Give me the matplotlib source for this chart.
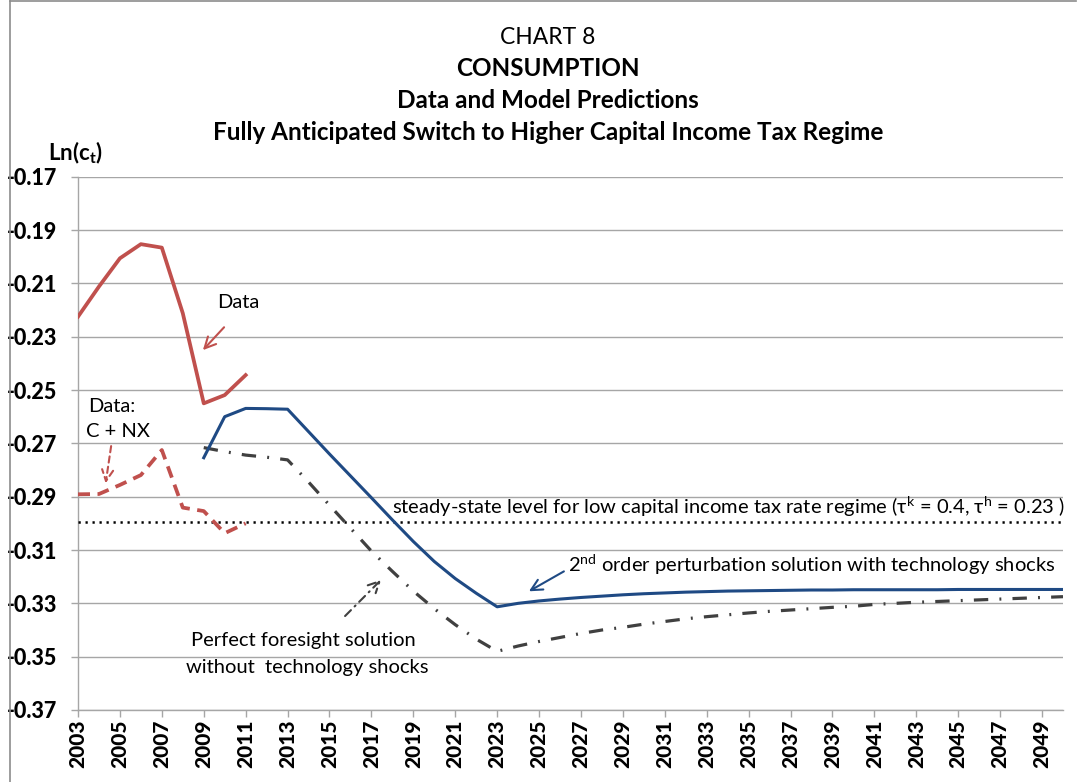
import matplotlib
matplotlib.use("Agg")
import matplotlib.pyplot as plt
from matplotlib.lines import Line2D

plt.rcParams['font.family'] = ['Lato', 'DejaVu Sans']
plt.rcParams['mathtext.fontset'] = 'custom'
plt.rcParams['mathtext.rm'] = 'Lato'
plt.rcParams['mathtext.it'] = 'Lato:italic'
plt.rcParams['mathtext.bf'] = 'Lato:bold'

# ---------------- data ----------------
data_years = list(range(2003, 2012))
data_c = [-0.2225, -0.2112, -0.2006, -0.1953, -0.1966, -0.2212, -0.2550, -0.2519, -0.2444]
data_cnx = [-0.2891, -0.2890, -0.2856, -0.2819, -0.2725, -0.2941, -0.2954, -0.3037, -0.3000]

model_years = list(range(2009, 2051))
perturbation = [-0.2754, -0.2600, -0.2569, -0.2570, -0.2572,
                -0.2656, -0.2740, -0.2822, -0.2904, -0.2987,
                -0.3068, -0.3143, -0.3207, -0.3262, -0.3313,
                -0.3300, -0.3291, -0.3284, -0.3278, -0.3273,
                -0.3268, -0.3264, -0.3261, -0.3258, -0.3256,
                -0.3254, -0.3253, -0.3252, -0.3251, -0.3250,
                -0.3250, -0.3249, -0.3249, -0.3249, -0.3249,
                -0.3249, -0.3248, -0.3248, -0.3248, -0.3248,
                -0.3248, -0.3248]
perfect_foresight = [-0.2716, -0.2731, -0.2744, -0.2752, -0.2762,
                     -0.2845, -0.2932, -0.3018, -0.3104, -0.3180,
                     -0.3254, -0.3320, -0.3380, -0.3434, -0.3480,
                     -0.3460, -0.3443, -0.3428, -0.3413, -0.3400,
                     -0.3390, -0.3378, -0.3368, -0.3358, -0.3350,
                     -0.3343, -0.3336, -0.3330, -0.3325, -0.3320,
                     -0.3315, -0.3311, -0.3304, -0.3300, -0.3296,
                     -0.3293, -0.3290, -0.3287, -0.3284, -0.3281,
                     -0.3278, -0.3275]
steady_state = -0.2994

y_ticks = [-0.17, -0.19, -0.21, -0.23, -0.25, -0.27, -0.29, -0.31, -0.33, -0.35, -0.37]
x_ticks = list(range(2003, 2050, 2))

# ---------------- colors ----------------
RED = '#C0504D'
BLUE = '#1F4A84'
DARK = '#404040'
GRID = '#A6A6A6'

fig = plt.figure(figsize=(10.78, 7.82), dpi=100)
ax = fig.add_axes([78/1078, 1 - 710/782, (1063-78)/1078, (710-176.7)/782])

ax.set_xlim(2003, 2050)
ax.set_ylim(-0.37, -0.17)
ax.set_yticks(y_ticks)
ax.set_yticklabels([f"{v:.2f}" for v in y_ticks], fontsize=15.5, fontweight='black')
ax.set_xticks(x_ticks)
ax.set_xticklabels([str(v) for v in x_ticks], rotation=90, fontsize=15, fontweight='black')
ax.grid(axis='y', color=GRID, linewidth=1.0)
ax.set_axisbelow(True)
for s in ['top', 'right']:
    ax.spines[s].set_visible(False)
for s in ['left', 'bottom']:
    ax.spines[s].set_color(GRID)
    ax.spines[s].set_linewidth(1.0)
ax.tick_params(axis='both', direction='out', length=5, color=GRID, width=1.0)
ax.tick_params(axis='y', pad=10)
ax.tick_params(axis='x', pad=2)

# lines
ax.plot([2003, 2050], [steady_state, steady_state], color='black', linewidth=1.8,
        linestyle=(0, (0.9, 1.9)), zorder=3)
ax.plot(data_years, data_c, color=RED, linewidth=2.7, zorder=4)
ax.plot(data_years, data_cnx, color=RED, linewidth=2.7, linestyle=(0, (3.2, 2)), zorder=4)
ax.plot(model_years, perfect_foresight, color=DARK, linewidth=2.3,
        linestyle=(0, (4.5, 3.5, 0.6, 3.5)), zorder=4)
ax.plot(model_years, perturbation, color=BLUE, linewidth=2.2, zorder=5)

# annotations
tfs = 14.5
ax.text(2010.64, -0.2170, "Data", fontsize=tfs, ha='center', va='center')
ax.annotate("", xy=(2008.87, -0.2358), xytext=(2010.06, -0.2257),
            arrowprops=dict(arrowstyle='->', color=RED, lw=1.5, mutation_scale=20))
ax.text(2003.5, -0.2560, "Data:", fontsize=tfs, ha='left', va='center')
ax.text(2003.4, -0.2655, "C + NX", fontsize=tfs, ha='left', va='center')
ax.annotate("", xy=(2004.3, -0.2860), xytext=(2004.6, -0.2700),
            arrowprops=dict(arrowstyle='->', color=RED, lw=1.5, linestyle=(0, (3, 2)),
                            mutation_scale=20))
ax.text(2018.0, -0.2937, "steady-state level for low capital income tax rate regime "
        "(τ$^{\\rm k}$ = 0.4, τ$^{\\rm h}$ = 0.23 )", fontsize=tfs, ha='left', va='center')
ax.text(2026.4, -0.3156, "2$^{\\rm nd}$ order perturbation solution with technology shocks",
        fontsize=tfs, ha='left', va='center')
ax.annotate("", xy=(2024.4, -0.3260), xytext=(2026.3, -0.3175),
            arrowprops=dict(arrowstyle='->', color=BLUE, lw=1.5, mutation_scale=20))
ax.text(2013.74, -0.3441, "Perfect foresight solution", fontsize=tfs, ha='center', va='center')
ax.text(2013.93, -0.3542, "without  technology shocks", fontsize=tfs, ha='center', va='center')
ax.annotate("", xy=(2017.56, -0.3204), xytext=(2015.65, -0.3355),
            arrowprops=dict(arrowstyle='->', color=DARK, lw=1.5, linestyle=(0, (4, 2.5, 0.6, 2.5)),
                            mutation_scale=20))

# titles
cx = 548 / 1078
fig.text(cx, 1 - 37/782, "CHART 8", fontsize=16.5, ha='center', va='center')
fig.text(cx, 1 - 69/782, "CONSUMPTION", fontsize=17.5, fontweight='bold', ha='center', va='center')
fig.text(cx, 1 - 101/782, "Data and Model Predictions", fontsize=17.5, fontweight='bold',
         ha='center', va='center')
fig.text(cx, 1 - 133/782, "Fully Anticipated Switch to Higher Capital Income Tax Regime",
         fontsize=17.5, fontweight='bold', ha='center', va='center')
fig.text(48/1078, 1 - 153/782, "Ln(c$_{\\mathbf{t}}$)", fontsize=16, fontweight='bold',
         ha='left', va='center')

# outer chart border
fig.add_artist(Line2D([10/1078, 10/1078], [0, 1 - 1/782], transform=fig.transFigure,
                      color='#8C8C8C', linewidth=1.2))
fig.add_artist(Line2D([10/1078, 1 - 2/1078], [1 - 1/782, 1 - 1/782], transform=fig.transFigure,
                      color='#8C8C8C', linewidth=1.2))

fig.savefig("out.png", dpi=100)
